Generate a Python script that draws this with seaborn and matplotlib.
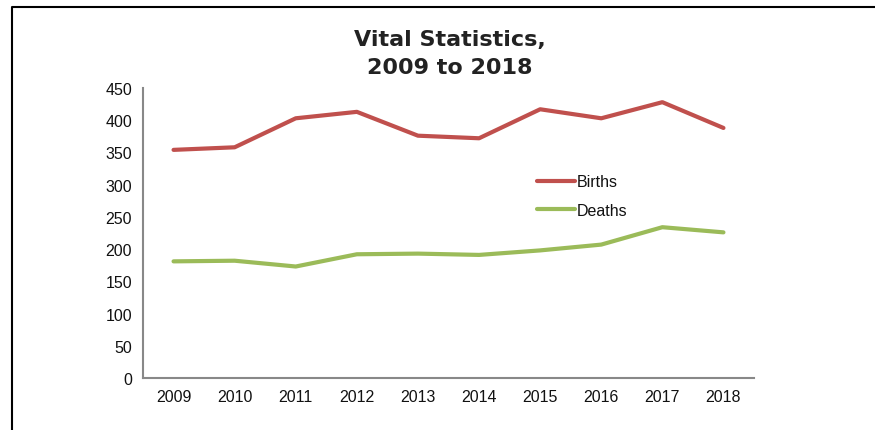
import numpy as np
import pandas as pd
import seaborn as sns
import matplotlib.pyplot as plt
from matplotlib.lines import Line2D

years = [2009, 2010, 2011, 2012, 2013, 2014, 2015, 2016, 2017, 2018]
births = [354, 358, 403, 413, 376, 372, 417, 403, 428, 388]
deaths = [181, 182, 173, 192, 193, 191, 198, 207, 234, 226]
series = ["Births", "Deaths"]
colors = ["#C0504D", "#9BBB59"]

df = pd.DataFrame({"Year": years * 2,
                   "Value": births + deaths,
                   "Series": [series[0]] * len(years) + [series[1]] * len(years)})

sns.set_style("white")
plt.rcParams['font.family'] = ['Liberation Sans', 'DejaVu Sans']

fig = plt.figure(figsize=(8.75, 4.31), dpi=100)
ax = fig.add_axes([143/875, 1 - 379/431, (754-143)/875, (379-89)/431])

sns.lineplot(data=df, x="Year", y="Value", hue="Series", palette=colors,
             linewidth=3, ax=ax, legend=True)

ax.set_xlim(years[0] - 0.5, years[-1] + 0.5)
ax.set_ylim(0, 450)
ax.set_yticks(np.arange(0, 451, 50))
ax.set_xticks(years)
ax.set_xticklabels([str(y) for y in years])
ax.set_xticks(np.arange(years[0] - 0.5, years[-1] + 1, 1), minor=True)
ax.tick_params(axis="x", which="major", length=0, pad=8, labelsize=11.5, colors="#111111")
ax.tick_params(axis="x", which="minor", length=4, width=1.3, color="#888888", direction="out")
ax.tick_params(axis="y", length=5, width=1.3, color="#888888", direction="out", pad=3,
               labelsize=11.5, labelcolor="#111111")
ax.set_xlabel("")
ax.set_ylabel("")

for s in ["top", "right"]:
    ax.spines[s].set_visible(False)
for s in ["left", "bottom"]:
    ax.spines[s].set_color("#888888")
    ax.spines[s].set_linewidth(1.5)

leg = ax.legend(loc="upper left", bbox_to_anchor=(0.634, 0.725), frameon=False,
                handlelength=2.4, handletextpad=0.1, labelspacing=0.85, fontsize=11.5,
                borderaxespad=0)
for t in leg.get_texts():
    t.set_color("#111111")

fig.text(450/875, 1 - 54/431, "Vital Statistics,\n2009 to 2018", ha="center", va="center",
         fontsize=16, fontweight="bold", family=["DejaVu Sans"],
         color="#222222", linespacing=1.45)

# outer frame (top and left)
fig.add_artist(Line2D([12/875, 12/875, 1], [0, 1 - 8/431, 1 - 8/431],
                      transform=fig.transFigure, color="black", linewidth=1.5))

fig.savefig("out.png", dpi=100)
